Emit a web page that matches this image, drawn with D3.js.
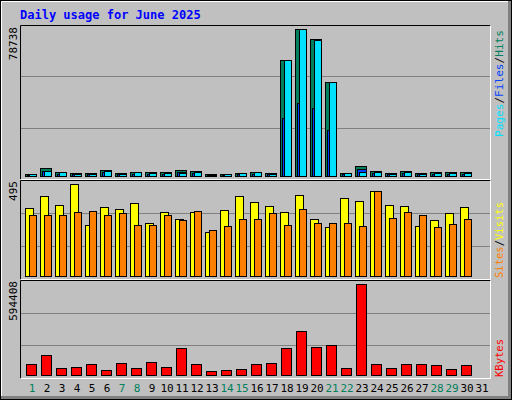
<!DOCTYPE html><html><head><meta charset="utf-8">
<script src="https://cdn.jsdelivr.net/npm/d3@7"></script>
<style>body{margin:0}</style></head><body>
<script>
const days=d3.range(1,32);
const weekend=[1,7,8,14,15,21,22,28,29];
const hits=[1250,4280,2140,1610,1610,3210,1610,2140,2140,2140,3210,2680,1250,1250,1610,2140,1610,62120,78738,73370,50340,1610,5360,2680,1610,2680,1610,2140,2140,2140];
const files=[700,2500,1300,900,900,2000,900,1300,1200,1200,2100,1500,500,700,900,1300,900,30800,39000,36500,24400,900,3700,1600,900,1600,900,1100,1200,1200];
const pages=[1000,2680,2140,1000,1000,2680,1000,2140,1610,1610,1610,2140,500,1000,1610,2140,1000,62120,78738,72800,50340,1610,2140,2140,1000,2140,1000,1610,1610,1610];
const sites=[365,430,382,495,274,371,360,392,284,344,306,344,236,355,430,398,376,344,436,306,263,419,403,457,382,376,268,301,338,371];
const visits=[328,328,328,344,349,328,338,274,274,328,301,349,247,268,306,306,338,274,360,284,284,284,268,457,311,344,328,263,279,306];
const kbytes=[69400,128000,47700,54200,69400,34700,80300,47700,86800,54200,177900,69400,28200,34700,41200,73700,80300,177900,288500,184400,197400,47700,594408,73700,47700,73700,69400,62900,41200,62900];

const svg=d3.select("body").append("svg").attr("width",512).attr("height",400);
const mono="DejaVu Sans Mono, monospace";
svg.append("rect").attr("width",512).attr("height",400).attr("fill","#c0c0c0");
svg.append("rect").attr("x",0.5).attr("y",0.5).attr("width",511).attr("height",399).attr("fill","none").attr("stroke","#000");
svg.append("path").attr("d","M1.5,398.5V1.5H509").attr("stroke","#fff").attr("fill","none");
svg.append("rect").attr("x",508).attr("y",1).attr("width",3).attr("height",398).attr("fill","#808080");
svg.append("rect").attr("x",1).attr("y",396).attr("width",510).attr("height",3).attr("fill","#808080");
svg.append("text").attr("x",20).attr("y",19).attr("font-family",mono).attr("font-weight","bold").attr("font-size",12).attr("fill","#0000ff").text("Daily usage for June 2025");

const x=d3.scaleLinear().domain([1,31]).range([25,475]);
function panel(y0,y1){
  svg.append("rect").attr("x",20.5).attr("y",y0+0.5).attr("width",470).attr("height",y1-y0).attr("fill","#c0c0c0");
  const h=y1-y0;
  [1/3,2/3].forEach(f=>svg.append("line").attr("x1",21).attr("x2",490).attr("y1",Math.round(y0+h*f)+0.5).attr("y2",Math.round(y0+h*f)+0.5).attr("stroke","#808080"));
  svg.append("path").attr("d",`M20.5,${y1+0.5}V${y0+0.5}H490.5`).attr("stroke","#000").attr("fill","none");
  svg.append("path").attr("d",`M20.5,${y1+0.5}H490.5V${y0+0.5}`).attr("stroke","#fff").attr("fill","none");
}
panel(25,179);panel(180,279);panel(280,378);

function bars(data,y,off,w,color){
  svg.append("g").selectAll("rect").data(data).join("rect")
   .attr("x",(d,i)=>x(i+1)+off+0.5).attr("width",w)
   .attr("y",d=>Math.round(y(d))+0.5).attr("height",d=>Math.max(0,y(0)-Math.round(y(d))))
   .attr("fill",color).attr("stroke","#000");
}
const y1=d3.scaleLinear().domain([0,78738]).range([176,29]);
bars(hits,y1,0,11,"#00805c");
bars(files,y1,2,9,"#0040ff");
bars(pages,y1,4,7,"#00e0ff");
const y2=d3.scaleLinear().domain([0,495]).range([276,184]);
bars(sites,y2,0,8,"#ffff00");
bars(visits,y2,4,7,"#ff8000");
const y3=d3.scaleLinear().domain([0,594408]).range([375,284]);
bars(kbytes,y3,1,10,"#ff0000");

svg.append("g").selectAll("text").data(days).join("text")
 .attr("x",d=>x(d)+7).attr("y",392).attr("text-anchor","middle")
 .attr("font-family",mono).attr("font-size",11)
 .attr("fill",d=>weekend.includes(d)?"#00805c":"#000").text(d=>d);

function vlab(xx,yy,t){svg.append("text").attr("transform",`translate(${xx},${yy}) rotate(-90)`).attr("text-anchor","end").attr("font-family",mono).attr("font-size",11).attr("fill","#000").text(t);}
vlab(17,27,"78738");vlab(17,181,"495");vlab(17,281,"594408");

function rlab(yy,len,parts){
  const t=svg.append("text").attr("transform",`translate(503,${yy}) rotate(-90)`).attr("font-family",mono).attr("font-size",11)
   .attr("textLength",len).attr("lengthAdjust","spacingAndGlyphs");
  parts.forEach(p=>t.append("tspan").attr("fill",p[1]).text(p[0]));
}
rlab(137,107,[["Pages","#00e0ff"],["/","#000"],["Files","#0040ff"],["/","#000"],["Hits","#00805c"]]);
rlab(278,76,[["Sites","#ff8000"],["/","#000"],["Visits","#ffff00"]]);
rlab(377,38,[["KBytes","#ff0000"]]);
</script></body></html>
